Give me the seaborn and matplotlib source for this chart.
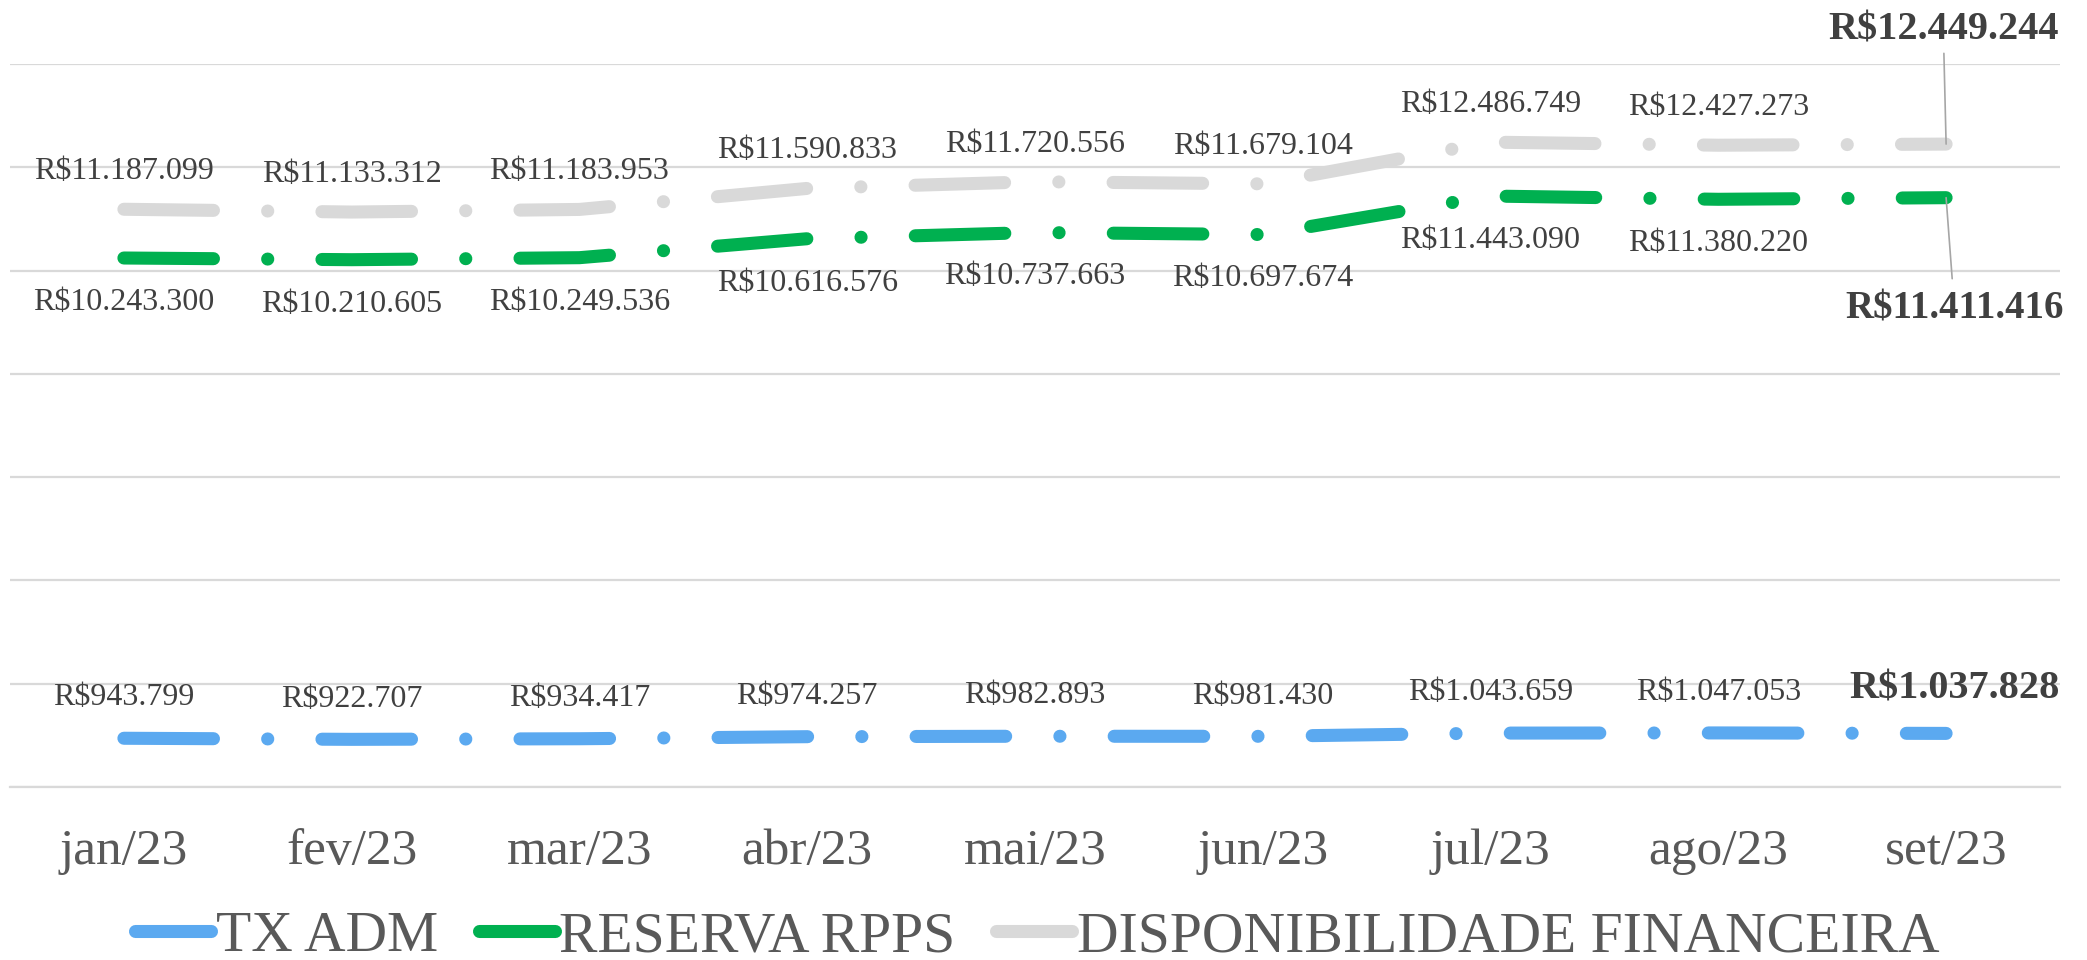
import numpy as np
import pandas as pd
import matplotlib
matplotlib.use("Agg")
import matplotlib.pyplot as plt
from matplotlib.lines import Line2D
import seaborn as sns

months = ["jan/23", "fev/23", "mar/23", "abr/23", "mai/23", "jun/23", "jul/23", "ago/23", "set/23"]
tx_adm = [943799, 922707, 934417, 974257, 982893, 981430, 1043659, 1047053, 1037828]
reserva_rpps = [10243300, 10210605, 10249536, 10616576, 10737663, 10697674, 11443090, 11380220, 11411416]
disponibilidade = [11187099, 11133312, 11183953, 11590833, 11720556, 11679104, 12486749, 12427273, 12449244]
series_names = ["TX ADM", "RESERVA RPPS", "DISPONIBILIDADE FINANCEIRA"]
colors = ["#5BA9F0", "#00B050", "#D9D9D9"]

sns.set_style("white")
plt.rcParams["font.family"] = ["Liberation Serif", "DejaVu Serif"]
plt.rcParams["lines.scale_dashes"] = False

def fmt(v):
    return "R$" + f"{v:,}".replace(",", ".")

fig = plt.figure(figsize=(20.87, 9.6), dpi=100)
ax = fig.add_axes([10 / 2087, 1 - 787 / 960, (2060 - 10) / 2087, (787 - 64) / 960])

lw = 9.4
ls = (0, (64.5, 39, 0.1, 39))
all_series = [tx_adm, reserva_rpps, disponibilidade]
for name, vals, col in zip(series_names, all_series, colors):
    df = pd.DataFrame({"mes": months, "valor": vals})
    sns.lineplot(data=df, x="mes", y="valor", ax=ax, color=col, linewidth=lw,
                 linestyle=ls, dash_capstyle="round", solid_capstyle="round",
                 sort=False, legend=False, zorder=3)

ax.set_xlim(-0.5, 8.5)
ax.set_ylim(0, 14e6)
ax.set_yticks(np.arange(0, 14e6 + 1, 2e6))
ax.set_yticklabels([])
ax.tick_params(axis="y", length=0)
ax.yaxis.grid(True, color="#D9D9D9", linewidth=1.6)
ax.xaxis.grid(False)
ax.set_xlabel("")
ax.set_ylabel("")
for s in ["left", "right", "top"]:
    ax.spines[s].set_visible(False)
ax.spines["bottom"].set_color("#D9D9D9")
ax.spines["bottom"].set_linewidth(1.6)

ax.set_xticks(range(len(months)))
ax.set_xticklabels(months, fontsize=37, color="#595959")
ax.set_xticks(np.arange(-0.5, len(months), 1), minor=True)
ax.tick_params(axis="x", which="major", length=0, pad=30)
ax.tick_params(axis="x", which="minor", length=11.5, width=1.6, color="#D9D9D9")

label_color = "#404040"
offsets = {0: 29, 1: -32, 2: 27}
n = len(months)
for si, vals in enumerate(all_series):
    for i, v in enumerate(vals):
        if i == n - 1:
            continue
        ax.annotate(fmt(v), (i, v), xytext=(0, offsets[si]), textcoords="offset points",
                    ha="center", va="center", fontsize=23, color=label_color,
                    annotation_clip=False)

# last-point labels (bold)
last = n - 1
ax.annotate(fmt(tx_adm[last]), (last, tx_adm[last]), xytext=(6, 32), textcoords="offset points",
            ha="center", va="center", fontsize=29, fontweight="bold", color=label_color,
            annotation_clip=False)
ax.annotate(fmt(disponibilidade[last]), (last, disponibilidade[last]), xytext=(-2, 82),
            textcoords="offset points", ha="center", va="center", fontsize=29,
            fontweight="bold", color=label_color, annotation_clip=False,
            arrowprops=dict(arrowstyle="-", color="#A6A6A6", lw=1.2, shrinkA=1, shrinkB=0))
ax.annotate(fmt(reserva_rpps[last]), (last, reserva_rpps[last]), xytext=(6, -80),
            textcoords="offset points", ha="center", va="center", fontsize=28,
            fontweight="bold", color=label_color, annotation_clip=False,
            arrowprops=dict(arrowstyle="-", color="#A6A6A6", lw=1.2, shrinkA=6, shrinkB=0))

handles = [Line2D([0], [0], color=c, lw=lw, solid_capstyle="round") for c in colors]
fig.legend(handles, series_names, loc="center", bbox_to_anchor=(0.497, 1 - 937 / 960), ncol=3,
           frameon=False, fontsize=41.5, handlelength=1.32, handletextpad=0.08,
           columnspacing=0.7, labelcolor="#595959", borderpad=0.1)

fig.savefig("out.png", dpi=100)
